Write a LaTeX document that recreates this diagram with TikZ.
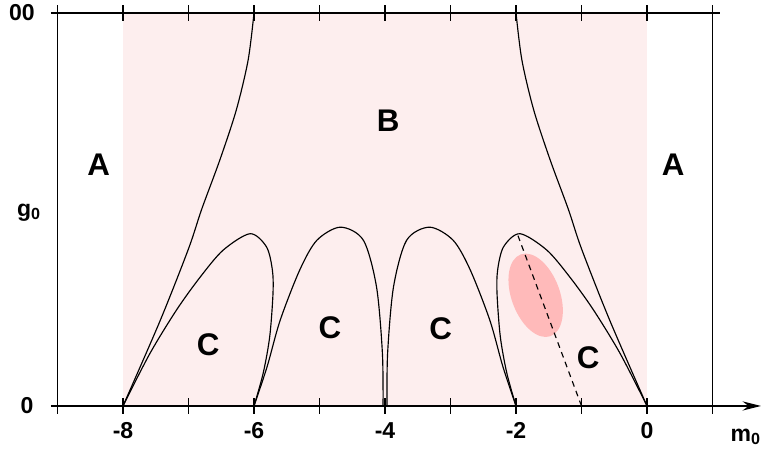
\documentclass[tikz,border=0pt]{standalone}
\usepackage{fontspec}
\setmainfont{Liberation Sans}
\usetikzlibrary{arrows.meta}

\definecolor{rosa}{RGB}{253,238,238}
\definecolor{mancha}{RGB}{255,186,186}

\begin{document}
\begin{tikzpicture}[line width=0.5pt,
    region/.style={font=\fontsize{13.6}{16}\selectfont\bfseries},
    marca/.style={font=\fontsize{10}{12}\selectfont\bfseries},
    eje/.style={line width=0.6pt},
    curva/.style={line width=0.5pt}]
    \useasboundingbox (-9.878,-0.656) rectangle (1.786,6.198);

    % Zona sombreada
    \fill[rosa] (-8,0) rectangle (0,6);

    % Ejes y marco
    \draw[eje, -{Stealth[length=8pt,width=4pt]}] (-9.1,0) -- (1.74,0);
    \draw[eje] (-9.1,6) -- (1.12,6);
    \draw[eje] (-9,0) -- (-9,6);
    \draw[eje] (1,0) -- (1,6);
    \foreach \x in {-9,...,1} {
        \draw[eje] (\x,-0.12) -- (\x,0.12);
        \draw[eje] (\x,5.88) -- (\x,6.12);
    }
    \foreach \x [count=\i] in {-8,-6,-4,-2,0}
        \node[marca] (valor\i) at (\x,-0.37) {\x};
    \node[marca, anchor=east, inner sep=0pt] (infinito) at (-9.34,6) {00};
    \node[marca, anchor=east, inner sep=0pt] (cero) at (-9.36,0) {0};
    \node[marca, anchor=east, inner sep=0pt] (ejeg) at (-9.24,2.95) {g\textsubscript{0}};
    \node[marca] (ejem) at (1.51,-0.47) {m\textsubscript{0}};

    % Mancha y recta punteada
    \fill[mancha] (-1.70,1.69) ellipse[x radius=0.37, y radius=0.664, rotate=20];
    \coordinate (pie) at (-1,0);
    \coordinate (cima) at (-1.97,2.6);
    \draw[curva, dash pattern=on 2.5pt off 2pt] (pie) -- (cima);

    % Curvas (simetricas respecto a m0=-4)
    \foreach \s in {1,-1} {
        \begin{scope}[shift={(-4,0)}, xscale=\s]
            \draw[curva] plot[smooth] coordinates {(-4,0) (-3.43,1.31) (-3,2.4) (-2.8,3) (-2.52,3.76) (-2.27,4.52) (-2.09,5.28) (-2,6)};
            \draw[curva] plot[smooth] coordinates {(-4,0) (-3.59,0.8) (-3.18,1.47) (-2.82,1.97) (-2.47,2.38) (-2.06,2.63) (-1.81,2.43) (-1.72,2.08) (-1.71,1.72) (-1.76,1.06) (-1.86,0.5) (-2,0)};
            \draw[curva] plot[smooth] coordinates {(-2,0) (-1.8,0.6) (-1.6,1.31) (-1.3,2.08) (-1.04,2.53) (-0.68,2.73) (-0.33,2.53) (-0.13,1.82) (-0.04,0.81) (-0.03,0)};
        \end{scope}
    }

    % Regiones
    \node[region] (regA1) at (-8.37,3.68) {A};
    \node[region] (regA2) at (0.40,3.68) {A};
    \node[region] (regB) at (-3.95,4.35) {B};
    \node[region] (regC1) at (-6.70,0.93) {C};
    \node[region] (regC2) at (-4.84,1.19) {C};
    \node[region] (regC3) at (-3.15,1.18) {C};
    \node[region] (regC4) at (-0.90,0.73) {C};
\end{tikzpicture}
\end{document}
